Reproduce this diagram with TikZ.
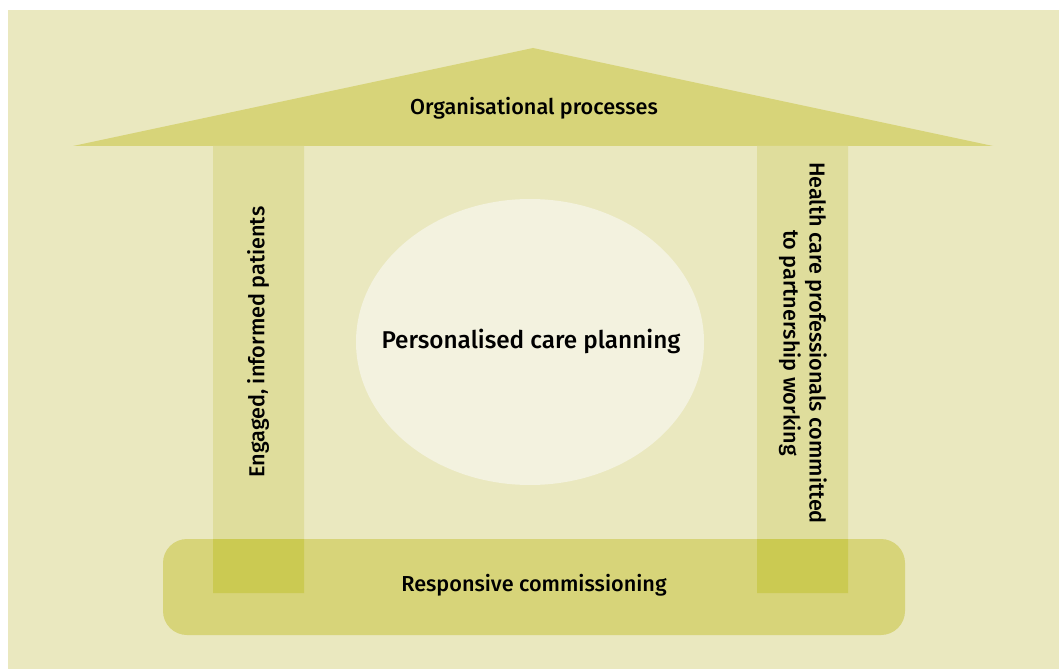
\documentclass[tikz,border=0pt]{standalone}
\usepackage{fontspec}
\setmainfont{Fira Sans}[UprightFont=* Medium]
\definecolor{bgcol}{HTML}{EAE8BF}
\definecolor{roofcol}{HTML}{D7D479}
\definecolor{pillarcol}{HTML}{DFDD9C}
\definecolor{overlapcol}{HTML}{CBCA52}
\definecolor{eggcol}{HTML}{F3F2DF}
\tikzset{
  lbl/.style={font=\fontsize{15.4}{18.5}\selectfont, text=black, inner sep=0pt},
  biglbl/.style={lbl, font=\fontsize{17.3}{20}\selectfont},
}
\begin{document}
\begin{tikzpicture}[x=0.025cm,y=-0.025cm]
  \useasboundingbox (0,0) rectangle (1059,669);
  \fill[bgcol] (8,10) rectangle (1059,669);
  \fill[roofcol] (73,146) -- (533,48) -- (993,146) -- cycle;
  \fill[pillarcol] (213,146) rectangle (304,593) (757,146) rectangle (848,593);
  \fill[eggcol] (530,342) ellipse [x radius=174, y radius=143];
  \fill[roofcol, rounded corners=0.6cm] (163,539) rectangle (905,635);
  \fill[overlapcol] (213,539) rectangle (304,593) (757,539) rectangle (848,593);
  \node[lbl] (roof) at (534,108) {Organisational processes};
  \node[biglbl] (care) at (531,341) {Personalised care planning};
  \node[lbl] (base) at (534,585) {Responsive commissioning};
  \node[lbl, rotate=90] (patients) at (258,342) {Engaged, informed patients};
  \node[lbl, rotate=-90, align=center] (staff) at (803,343) {Health care professionals committed\\to partnership working};
\end{tikzpicture}
\end{document}
